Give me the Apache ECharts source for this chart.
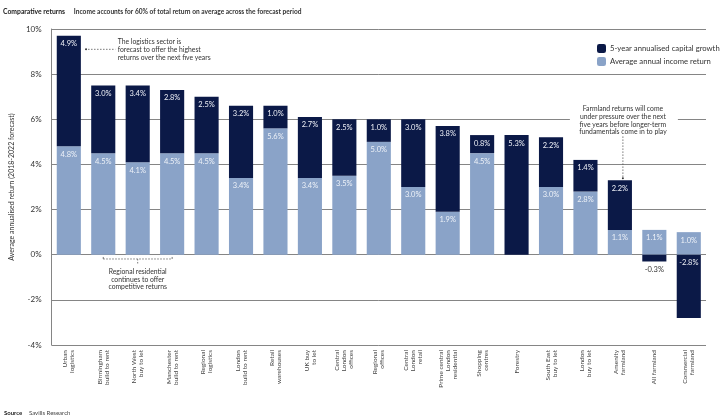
<!DOCTYPE html>
<html><head><meta charset="utf-8">
<script src="https://cdn.jsdelivr.net/npm/echarts@6/dist/echarts.min.js"></script>
<style>html,body{margin:0;padding:0;background:#fff}#c{width:721px;height:417px}</style>
</head><body><div id="c"></div>
<script>
const categories = ['Urban\nlogistics','Birmingham\nbuild to rent','North West\nbuy to let','Manchester\nbuild to rent','Regional\nlogistics','London\nbuild to rent','Retail\nwarehouses','UK buy\nto let','Central\nLondon\noffices','Regional\noffices','Central\nLondon\nretail','Prime central\nLondon\nresidential','Shopping\ncentres','Forestry','South East\nbuy to let','London\nbuy to let','Amenity\nfarmland','All farmland','Commercial\nfarmland'];
const incomeReturn = [4.8,4.5,4.1,4.5,4.5,3.4,5.6,3.4,3.5,5.0,3.0,1.9,4.5,0,3.0,2.8,1.1,1.1,1.0];
const capitalGrowth = [4.9,3.0,3.4,2.8,2.5,3.2,1.0,2.7,2.5,1.0,3.0,3.8,0.8,5.3,2.2,1.4,2.2,-0.3,-2.8];
const yTicks = {min:-4, max:10, interval:2};
const seriesNames = ['Average annual income return','5-year annualised capital growth'];
const notes = {
  logistics: 'The logistics sector is\nforecast to offer the highest\nreturns over the next five years',
  regional: 'Regional residential\ncontinues to offer\ncompetitive returns',
  farmland: 'Farmland returns will come\nunder pressure over the next\nfive years before longer-term\nfundamentals come in to play'
};

const FONT = 'Lato';
const DARK = '#0b1947';
const LIGHT = '#8aa3c8';
const chart = echarts.init(document.getElementById('c'), null, {renderer:'canvas'});

function capData(){
  return capitalGrowth.map(v => {
    if (v < 0 && v > -1) return {value:v, label:{position:'bottom', distance:4, color:'#333'}};
    return v;
  });
}

chart.setOption({
  animation:false,
  textStyle:{fontFamily:FONT},
  title:{left:3, top:3, padding:0, text:'{b|Comparative returns}  {n|Income accounts for 60% of total return on average across the forecast period}',
    textStyle:{rich:{b:{fontFamily:FONT,fontWeight:'bold',fontSize:6.8,color:'#222'},n:{fontFamily:FONT,fontSize:6.6,color:'#333'}}}},
  legend:{orient:'vertical', left:592, top:39, itemWidth:9, itemHeight:9, itemGap:4,
    data:[seriesNames[1], seriesNames[0]],
    textStyle:{fontFamily:FONT,fontSize:7.7,color:'#333',padding:[0,0,0,-1]}},
  grid:{left:48, right:15, top:29, bottom:72, containLabel:false},
  xAxis:{type:'category', data:categories,
    axisLine:{show:false}, axisTick:{show:false},
    axisLabel:{rotate:90, interval:0, fontFamily:FONT, fontSize:6.5, lineHeight:7, color:'#444', margin:5}},
  yAxis:{type:'value', min:yTicks.min, max:yTicks.max, interval:yTicks.interval,
    name:'Average annualised return (2018-2022 forecast)', nameLocation:'middle', nameGap:36,
    nameTextStyle:{fontFamily:FONT,fontSize:7,color:'#333'},
    axisLine:{show:true, lineStyle:{color:'#858585',width:1}}, axisTick:{show:false},
    axisLabel:{formatter:'{value}%', fontFamily:FONT, fontSize:8, color:'#333', margin:10},
    splitLine:{lineStyle:{color:'#858585',width:1}}},
  series:[
    {name:seriesNames[0], type:'bar', stack:'t', data:incomeReturn, barWidth:'70%', itemStyle:{color:LIGHT},
      label:{show:true, position:'insideTop', distance:4, fontFamily:FONT, fontSize:7.5, color:'#eef2f8',
        formatter:p => p.value ? p.value.toFixed(1)+'%' : ''}},
    {name:seriesNames[1], type:'bar', stack:'t', data:capData(), barWidth:'70%', itemStyle:{color:DARK},
      label:{show:true, position:'insideTop', distance:4, fontFamily:FONT, fontSize:7.5, color:'#f0f2f8',
        formatter:p => p.value.toFixed(1)+'%'}}
  ]
});

// annotations anchored to the data scales
const px = (c, v) => chart.convertToPixel({gridIndex:0}, [c, v]);
const bw = px(1,0)[0] - px(0,0)[0];
const a1 = px(0, 9.1);
const b1 = px(1, -0.1), b2 = px(2, -0.1), b3 = px(3, -0.1);
const f0 = px(16, 3.3), f1 = px(16, 5.95);
const dash = {stroke:'#555', lineWidth:0.8, lineDash:[1.5,1.5]};
const noteStyle = {fontFamily:FONT, fontSize:6.8, lineHeight:7.6, fill:'#333'};
chart.setOption({graphic:[
  {type:'circle', shape:{cx:a1[0]+bw*0.5, cy:a1[1], r:1}, style:{fill:'#333'}},
  {type:'line', shape:{x1:a1[0]+bw*0.5+2, y1:a1[1], x2:a1[0]+bw*1.35, y2:a1[1]}, style:dash},
  {type:'text', x:a1[0]+bw*1.42, y:a1[1]-11, style:Object.assign({text:notes.logistics, align:'left'}, noteStyle)},
  {type:'line', shape:{x1:b1[0], y1:b1[1]+2, x2:b3[0], y2:b1[1]+2}, style:dash},
  {type:'line', shape:{x1:b1[0], y1:b1[1], x2:b1[0], y2:b1[1]+2}, style:{stroke:'#555',lineWidth:0.8}},
  {type:'line', shape:{x1:b3[0], y1:b1[1], x2:b3[0], y2:b1[1]+2}, style:{stroke:'#555',lineWidth:0.8}},
  {type:'line', shape:{x1:b2[0], y1:b1[1]+2, x2:b2[0], y2:b1[1]+8}, style:dash},
  {type:'text', x:b2[0], y:b1[1]+11, style:Object.assign({text:notes.regional, align:'center'}, noteStyle)},
  {type:'rect', shape:{x:f0[0]-50, y:f1[1]-16, width:108, height:32}, style:{fill:'#fff'}},
  {type:'text', x:f0[0]+3, y:f1[1]-15, style:Object.assign({text:notes.farmland, align:'center'}, noteStyle)},
  {type:'line', shape:{x1:f0[0]+3, y1:f1[1]+16, x2:f0[0]+3, y2:f0[1]-2}, style:dash},
  {type:'circle', shape:{cx:f0[0]+3, cy:f0[1]-2, r:1}, style:{fill:'#333'}},
  {type:'text', left:4, top:407, style:{text:'{b|Source}  {n|Savills Research}', rich:{b:{fontFamily:FONT,fontWeight:'bold',fontSize:6,fill:'#222'},n:{fontFamily:FONT,fontSize:6,fill:'#444'}}}}
]});
</script></body></html>
